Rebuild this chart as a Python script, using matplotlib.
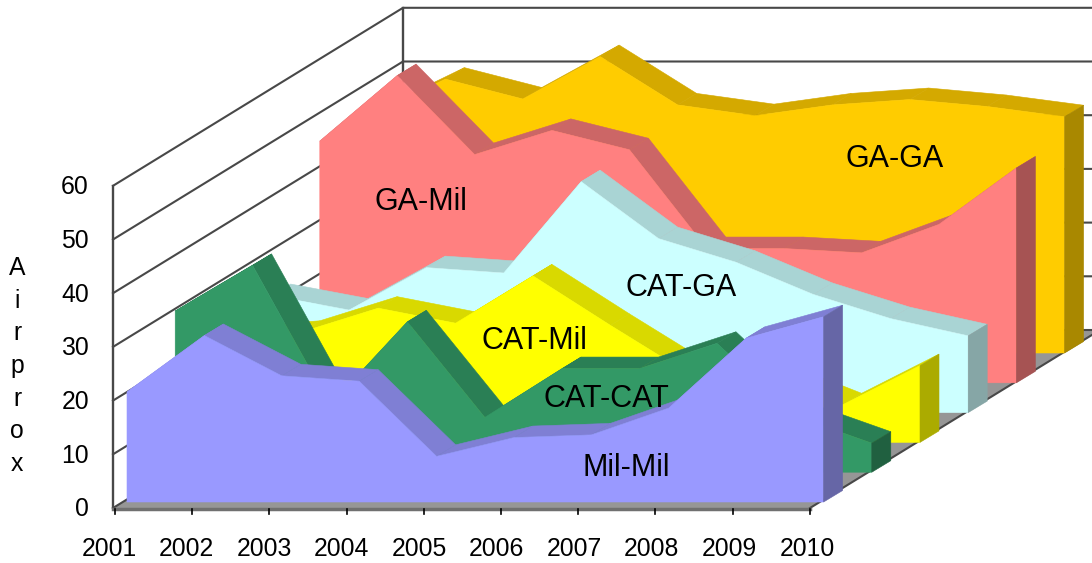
import matplotlib
matplotlib.use("Agg")
import matplotlib.pyplot as plt
from matplotlib.patches import Polygon

plt.rcParams['font.family'] = ['Liberation Sans', 'DejaVu Sans']

#---------------------------------Chart data-----------------------------------
years = ['2001', '2002', '2003', '2004', '2005', '2006', '2007', '2008', '2009', '2010']
y_ticks = [0, 10, 20, 30, 40, 50, 60]

# nearest series first
mil_mil = [20.5, 31, 23.5, 22.5, 8.5, 12, 12.5, 17.5, 30.5, 34.5]
cat_cat = [30, 38.5, 12.5, 28, 10.2, 19.3, 19.3, 24, 10.5, 5.4]
cat_mil = [19.5, 20.5, 25, 22.2, 31, 21.8, 12.9, 12.7, 7, 14.3]
cat_ga = [21.8, 19.1, 27, 26, 43, 32.4, 28, 22, 17.5, 14.3]
ga_mil = [45, 57.2, 42.5, 47, 43.4, 25, 25, 24.2, 29.5, 40]
ga_ga = [44, 51, 47.3, 55.2, 46.2, 44.2, 46.2, 47.2, 45.9, 44]

series = [mil_mil, cat_cat, cat_mil, cat_ga, ga_mil, ga_ga]
names = ['Mil-Mil', 'CAT-CAT', 'CAT-Mil', 'CAT-GA', 'GA-Mil', 'GA-GA']

# front, top, side
colours = [('#9999ff', '#7f7fd4', '#6666a6'),
           ('#339966', '#2a7f55', '#206040'),
           ('#ffff00', '#d9d900', '#abab00'),
           ('#ccffff', '#a9d4d4', '#86a6a6'),
           ('#ff8080', '#cc6666', '#a65353'),
           ('#ffcc00', '#d4a900', '#a98800')]

label_pos = [(626, 468), (606, 399), (534, 341), (681, 288), (421, 202), (895, 159)]

#---------------------------------Projection-----------------------------------
PX_PER_UNIT = 5.37
X_STEP = 77.4
FRONT_X, FRONT_Y = 127, 502     # first series, first year, zero
DEPTH_X, DEPTH_Y = 48.2, -29.8  # one series further back
THICK_X, THICK_Y = 19, -11.5    # thickness of one series


def project(i, k, v, back=False):
    x = FRONT_X + X_STEP * i + DEPTH_X * k
    y = FRONT_Y + DEPTH_Y * k - PX_PER_UNIT * v
    if back:
        x += THICK_X
        y += THICK_Y
    return x, y


def face(ax, pts, colour, z):
    ax.add_patch(Polygon(pts, closed=True, facecolor=colour, edgecolor=colour,
                         linewidth=0.4, zorder=z))


#---------------------------------Figure---------------------------------------
fig = plt.figure(figsize=(10.92, 5.63), dpi=100)
ax = fig.add_axes([0, 0, 1, 1])
ax.set_xlim(0, 1092)
ax.set_ylim(563, 0)
ax.axis('off')

# walls and floor
wall_x, wall_y = 113, 508
back_x, back_y = 403, 330
line_col = '#484848'

face(ax, [(wall_x, wall_y), (810, wall_y), (810 + back_x - wall_x, back_y), (back_x, back_y)], '#969696', 1)
for t in y_ticks:
    h = PX_PER_UNIT * t
    ax.plot([wall_x, back_x, 1110], [wall_y - h, back_y - h, back_y - h], color=line_col, lw=1.5, zorder=2)
    ax.text(89, wall_y - h + 1.5, str(t), ha='right', va='center', fontsize=17.8, color='black')
ax.plot([wall_x, wall_x], [wall_y, wall_y - 60 * PX_PER_UNIT], color=line_col, lw=1.7, zorder=2)
ax.plot([back_x, back_x], [back_y, back_y - 60 * PX_PER_UNIT], color=line_col, lw=1.7, zorder=2)
ax.plot([810, 810 + back_x - wall_x], [wall_y, back_y], color=line_col, lw=1.5, zorder=2)
ax.plot([wall_x, 810], [wall_y + 1, wall_y + 1], color='#707070', lw=2.5, zorder=20)

# furthest series first
z = 3
for k in range(len(series) - 1, -1, -1):
    vals = series[k]
    front, top, side = colours[k]
    n = len(vals)
    for i in range(n - 1):
        face(ax, [project(i, k, vals[i]), project(i + 1, k, vals[i + 1]),
                  project(i + 1, k, vals[i + 1], True), project(i, k, vals[i], True)], top, z)
    pts = [project(0, k, 0)] + [project(i, k, vals[i]) for i in range(n)] + [project(n - 1, k, 0)]
    face(ax, pts, front, z + 1)
    face(ax, [project(n - 1, k, 0), project(n - 1, k, vals[-1]),
              project(n - 1, k, vals[-1], True), project(n - 1, k, 0, True)], side, z + 1)
    z += 2

for name, (lx, ly) in zip(names, label_pos):
    ax.text(lx, ly, name, ha='center', va='center', fontsize=22, color='black', zorder=30)

# x axis ticks and labels
for i, year in enumerate(years):
    tx = 115 + 77.2 * i
    ax.plot([tx, tx], [wall_y + 1, wall_y + 6], color='black', lw=1.2, zorder=21)
    ax.text(tx - 6 + 0.35 * i, 549, year, ha='center', va='center', fontsize=17.8, color='black')

ax.text(17, 366, '\n'.join('Airprox'), ha='center', va='center', fontsize=17.8,
        linespacing=1.46, color='black')

fig.savefig('out.png', dpi=100)
